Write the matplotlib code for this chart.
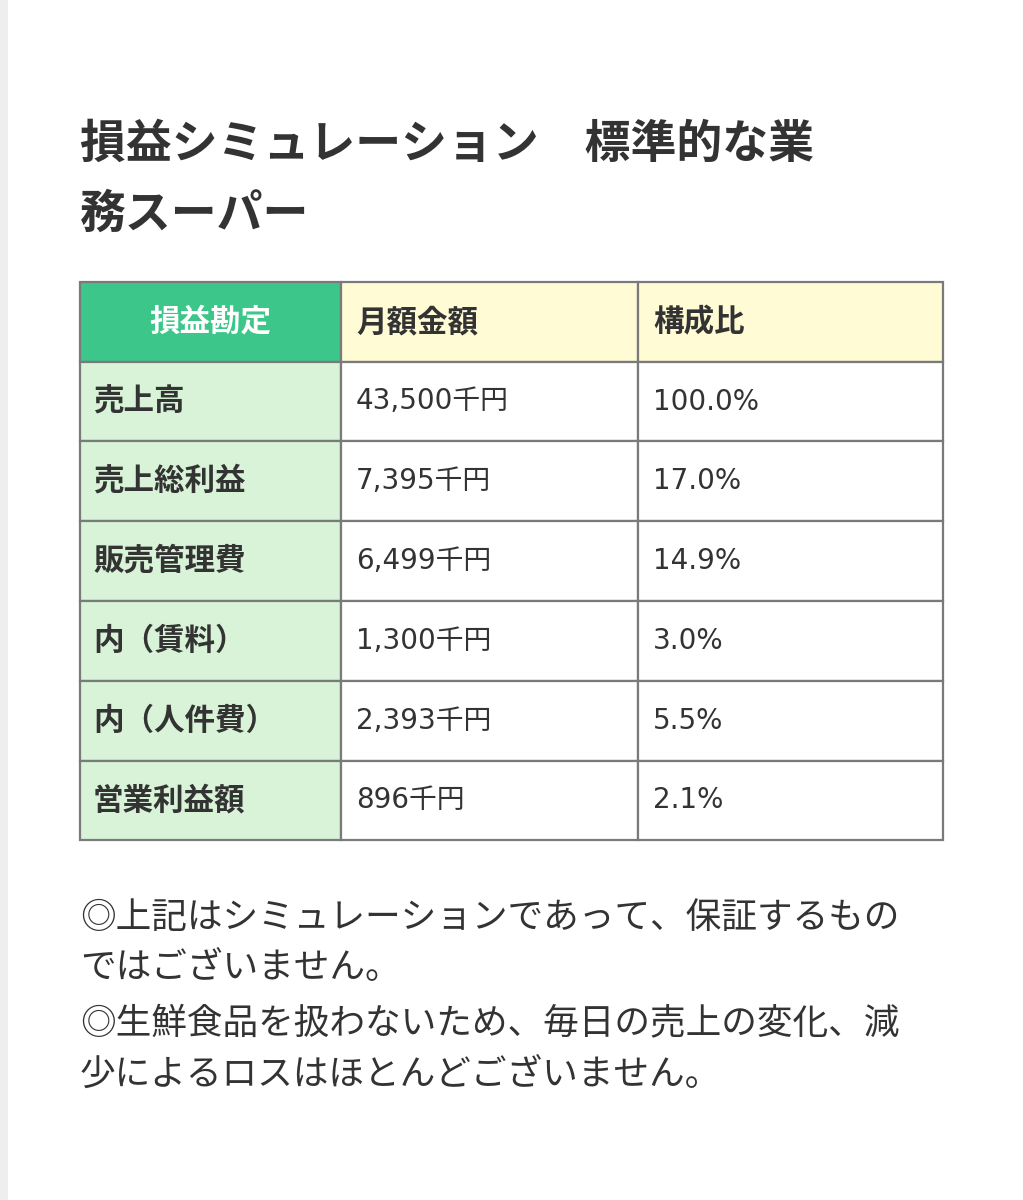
import matplotlib
matplotlib.use("Agg")
import matplotlib.pyplot as plt
from matplotlib.patches import Rectangle

plt.rcParams['font.family'] = ['Noto Sans CJK JP', 'DejaVu Sans']
numfam = ['DejaVu Sans', 'Noto Sans CJK JP']

title_lines = ["損益シミュレーション　標準的な業", "務スーパー"]
headers = ["損益勘定", "月額金額", "構成比"]
items = ["売上高", "売上総利益", "販売管理費", "内（賃料）", "内（人件費）", "営業利益額"]
amounts = [43500, 7395, 6499, 1300, 2393, 896]
ratios = [100.0, 17.0, 14.9, 3.0, 5.5, 2.1]
notes = ["◎上記はシミュレーションであって、保証するもの",
         "ではございません。",
         "◎生鮮食品を扱わないため、毎日の売上の変化、減",
         "少によるロスはほとんどございません。"]

fig = plt.figure(figsize=(10.23, 12), dpi=100)
ax = fig.add_axes([0, 0, 1, 1])
ax.set_xlim(0, 1023); ax.set_ylim(1200, 0); ax.axis('off')
ax.add_patch(Rectangle((0, 0), 8, 1200, color='#eeeeee', lw=0))

for i, t in enumerate(title_lines):
    ax.text(80, 145 + i * 70, t, fontsize=33, fontweight='bold', color='#333333', va='center', ha='left')

cols = [80, 341, 638, 943]
rows = [282, 362, 441, 521, 601, 681, 761, 840]
tc = '#333333'
fs = 22
for r in range(len(rows) - 1):
    y0, y1 = rows[r], rows[r + 1]
    yc = (y0 + y1) / 2
    for c in range(3):
        x0, x1 = cols[c], cols[c + 1]
        if r == 0:
            fc = '#3cc68a' if c == 0 else '#fffbd5'
        else:
            fc = '#d8f3d8' if c == 0 else '#ffffff'
        ax.add_patch(Rectangle((x0, y0), x1 - x0, y1 - y0, facecolor=fc, edgecolor='#7a7a7a', lw=1.6))
        if r == 0:
            if c == 0:
                ax.text((x0 + x1) / 2, yc, headers[c], fontsize=fs, fontweight='bold', color='white', ha='center', va='center')
            else:
                ax.text(x0 + 15, yc, headers[c], fontsize=fs, fontweight='bold', color=tc, ha='left', va='center')
        else:
            k = r - 1
            if c == 0:
                ax.text(x0 + 13, yc, items[k], fontsize=fs, fontweight='bold', color=tc, ha='left', va='center')
            elif c == 1:
                ax.text(x0 + 15, yc, f"{amounts[k]:,}千円", fontsize=20, family=numfam, color=tc, ha='left', va='center')
            else:
                ax.text(x0 + 15, yc, f"{ratios[k]:.1f}%", fontsize=20, family=numfam, color=tc, ha='left', va='center')

for i, t in enumerate(notes):
    ax.text(80, [918, 968, 1023, 1075][i], t, fontsize=25.7, color='#333333', ha='left', va='center')

fig.savefig('out.png', dpi=100, facecolor='white')
